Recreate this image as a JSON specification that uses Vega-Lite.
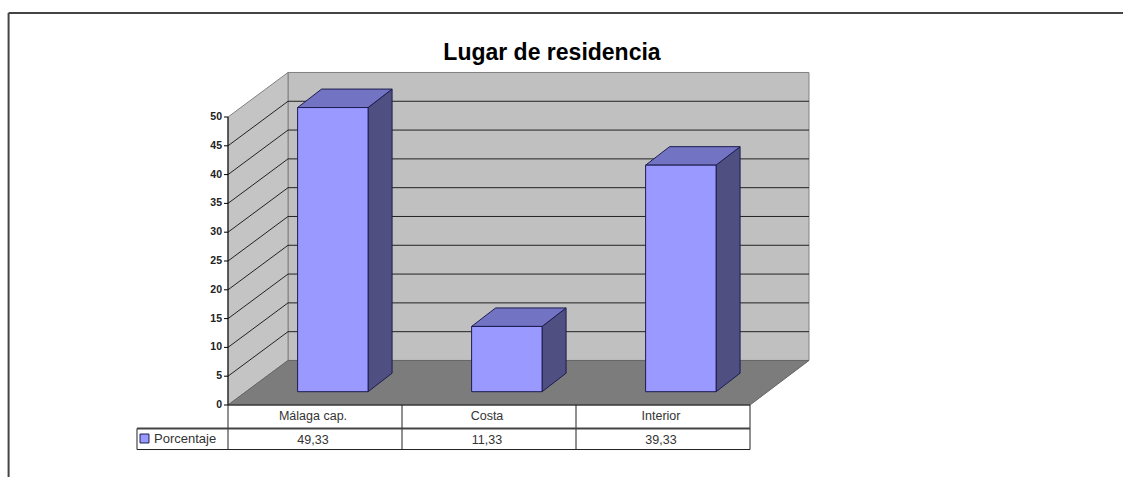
{
"$schema":"https://vega.github.io/schema/vega-lite/v6.json",
"width":522,"height":288,
"autosize":{"type":"none"},
"padding":{"left":228,"top":117,"right":373,"bottom":72},
"background":"white",
"config":{"view":{"stroke":null},"font":"Liberation Sans"},
"title":{"text":"Lugar de residencia","font":"Liberation Sans","fontSize":23,"fontWeight":"bold","color":"#000000","anchor":"middle","frame":"group","dx":63,"offset":2,"dy":55},
"datasets":{
"barras":[{"lugar":"Málaga cap.","porcentaje":49.33,"serie":"Porcentaje"},{"lugar":"Costa","porcentaje":11.33,"serie":"Porcentaje"},{"lugar":"Interior","porcentaje":39.33,"serie":"Porcentaje"}],
"marcas":[{"marca":0},{"marca":5},{"marca":10},{"marca":15},{"marca":20},{"marca":25},{"marca":30},{"marca":35},{"marca":40},{"marca":45},{"marca":50}],
"fondo":[{"prof":0},{"prof":1}],
"cortes":[{"corte":0},{"corte":1},{"corte":2},{"corte":3}]
},
"layer":[
{"data":{"name":"fondo"},"transform":[{"filter":"datum.prof==0"}],
 "mark":{"type":"rect","fill":"#c0c0c0","stroke":"#808080","strokeWidth":1},
 "encoding":{"x":{"datum":0.345,"type":"quantitative","scale":{"domain":[0,3],"nice":false,"zero":false},"axis":null},"x2":{"datum":3.339},
 "y":{"datum":7.73,"type":"quantitative","scale":{"domain":[0,50],"nice":false,"zero":false},"axis":null},"y2":{"datum":57.73}}},
{"data":{"name":"fondo"},"transform":[{"calculate":"datum.prof*0.345","as":"px"},{"calculate":"datum.prof*7.73","as":"py"},{"calculate":"50+datum.prof*7.73","as":"py2"}],
 "mark":{"type":"area","fill":"#c4c4c4","stroke":"#808080","strokeWidth":1,"opacity":1},
 "encoding":{"x":{"field":"px","type":"quantitative","axis":null},"y":{"field":"py","type":"quantitative","stack":null,"axis":null},"y2":{"field":"py2"}}},
{"data":{"name":"fondo"},"transform":[{"calculate":"datum.prof*0.345","as":"px"},{"calculate":"3+datum.prof*0.339","as":"px2"},{"calculate":"datum.prof*7.73","as":"py"}],
 "mark":{"type":"area","orient":"horizontal","fill":"#7c7c7c","stroke":"#666666","strokeWidth":1,"opacity":1},
 "encoding":{"y":{"field":"py","type":"quantitative","axis":null},"x":{"field":"px","type":"quantitative","stack":null,"axis":null},"x2":{"field":"px2"}}},
{"data":{"name":"marcas"},"transform":[{"filter":"datum.marca>0 && datum.marca<50"},{"calculate":"datum.marca+7.73","as":"atras"}],
 "mark":{"type":"rule","color":"#222222","strokeWidth":1},
 "encoding":{"x":{"datum":0.345,"type":"quantitative","axis":null},"x2":{"datum":3.339},"y":{"field":"atras","type":"quantitative","axis":null}}},
{"data":{"name":"marcas"},"transform":[{"filter":"datum.marca>0 && datum.marca<50"},{"calculate":"datum.marca+7.73","as":"atras"}],
 "mark":{"type":"rule","color":"#222222","strokeWidth":1},
 "encoding":{"x":{"datum":0,"type":"quantitative","axis":null},"x2":{"datum":0.345},"y":{"field":"marca","type":"quantitative","axis":null},"y2":{"field":"atras"}}},
{"data":{"name":"marcas"},
 "mark":{"type":"rule","color":"#000000","strokeWidth":1},
 "encoding":{"x":{"datum":-0.023,"type":"quantitative","axis":null},"x2":{"datum":0},"y":{"field":"marca","type":"quantitative","axis":null}}},
{"data":{"values":[{"k":1}]},
 "mark":{"type":"rule","color":"#000000","strokeWidth":1},
 "encoding":{"x":{"datum":0,"type":"quantitative","axis":null},"y":{"datum":0,"type":"quantitative","axis":null},"y2":{"datum":50}}},
{"data":{"name":"marcas"},
 "mark":{"type":"text","font":"Liberation Sans","fontSize":10.5,"fontWeight":"bold","color":"#222222","align":"right","baseline":"middle","dx":-6},
 "encoding":{"x":{"datum":0,"type":"quantitative","axis":null},"y":{"field":"marca","type":"quantitative","axis":null},"text":{"field":"marca","type":"quantitative"}}},
{"data":{"name":"barras"},"transform":[{"calculate":"indexof(['Málaga cap.','Costa','Interior'],datum.lugar)","as":"i"},{"calculate":"0","as":"a"},{"calculate":"1","as":"b"},{"fold":["a","b"],"as":["cara","p"]},{"calculate":"datum.i+0.805+datum.p*0.138","as":"px"},{"calculate":"2.31+datum.p*3.21","as":"py"},{"calculate":"2.31+datum.porcentaje+datum.p*3.21","as":"py2"}],
 "mark":{"type":"area","fill":"#4f4f82","stroke":"#1c1c50","strokeWidth":1,"opacity":1},
 "encoding":{"x":{"field":"px","type":"quantitative","axis":null},"y":{"field":"py","type":"quantitative","stack":null,"axis":null},"y2":{"field":"py2"},"detail":{"field":"lugar"}}},
{"data":{"name":"barras"},"transform":[{"calculate":"indexof(['Málaga cap.','Costa','Interior'],datum.lugar)","as":"i"},{"calculate":"0","as":"a"},{"calculate":"1","as":"b"},{"fold":["a","b"],"as":["cara","p"]},{"calculate":"datum.i+0.4+datum.p*0.138","as":"px"},{"calculate":"datum.i+0.805+datum.p*0.138","as":"px2"},{"calculate":"2.31+datum.porcentaje+datum.p*3.21","as":"py"}],
 "mark":{"type":"area","orient":"horizontal","fill":"#7373c4","stroke":"#1c1c50","strokeWidth":1,"opacity":1},
 "encoding":{"y":{"field":"py","type":"quantitative","axis":null},"x":{"field":"px","type":"quantitative","stack":null,"axis":null},"x2":{"field":"px2"},"detail":{"field":"lugar"}}},
{"data":{"name":"barras"},"transform":[{"calculate":"indexof(['Málaga cap.','Costa','Interior'],datum.lugar)","as":"i"},{"calculate":"datum.i+0.4","as":"px"},{"calculate":"datum.i+0.805","as":"px2"},{"calculate":"2.31+datum.porcentaje","as":"py"}],
 "mark":{"type":"rect","stroke":"#1c1c50","strokeWidth":1,"opacity":1},
 "encoding":{"x":{"field":"px","type":"quantitative","axis":null},"x2":{"field":"px2"},"y":{"field":"py","type":"quantitative","axis":null},"y2":{"datum":2.31},
 "color":{"field":"serie","type":"nominal","scale":{"domain":["Porcentaje"],"range":["#9999ff"]},"legend":{"title":null,"orient":"none","legendX":-90,"legendY":315,"symbolType":"square","symbolSize":80,"symbolStrokeColor":"#1c1c50","symbolStrokeWidth":1,"symbolOpacity":1,"labelFont":"Liberation Sans","labelFontSize":13,"labelColor":"#333333","labelOffset":3,"padding":0}}}},
{"data":{"name":"cortes"},
 "mark":{"type":"rule","color":"#222222","strokeWidth":1},
 "encoding":{"x":{"field":"corte","type":"quantitative","axis":null},"y":{"datum":0,"type":"quantitative","axis":null},"y2":{"datum":-7.73}}},
{"mark":{"type":"rule","color":"#222222","strokeWidth":1},"data":{"values":[{"k":1}]},
 "encoding":{"x":{"datum":-0.523,"type":"quantitative","axis":null},"y":{"datum":-4.08,"type":"quantitative","axis":null},"y2":{"datum":-7.73}}},
{"mark":{"type":"rule","color":"#222222","strokeWidth":1},"data":{"values":[{"k":1}]},
 "encoding":{"x":{"datum":0,"type":"quantitative","axis":null},"x2":{"datum":3},"y":{"datum":0,"type":"quantitative","axis":null}}},
{"mark":{"type":"rule","color":"#444444","strokeWidth":2},"data":{"values":[{"k":1}]},
 "encoding":{"x":{"datum":-0.523,"type":"quantitative","axis":null},"x2":{"datum":3},"y":{"datum":-4.08,"type":"quantitative","axis":null}}},
{"mark":{"type":"rule","color":"#222222","strokeWidth":1},"data":{"values":[{"k":1}]},
 "encoding":{"x":{"datum":-0.523,"type":"quantitative","axis":null},"x2":{"datum":3},"y":{"datum":-7.73,"type":"quantitative","axis":null}}},
{"mark":{"type":"rule","color":"#444444","strokeWidth":2},"data":{"values":[{"k":1}]},
 "encoding":{"x":{"datum":-1.261,"type":"quantitative","axis":null},"x2":{"datum":5.144},"y":{"datum":68.06,"type":"quantitative","axis":null}}},
{"mark":{"type":"rule","color":"#444444","strokeWidth":2},"data":{"values":[{"k":1}]},
 "encoding":{"x":{"datum":-1.261,"type":"quantitative","axis":null},"y":{"datum":68.06,"type":"quantitative","axis":null},"y2":{"datum":-12.5}}},
{"data":{"name":"barras"},"transform":[{"calculate":"indexof(['Málaga cap.','Costa','Interior'],datum.lugar)+0.5","as":"centro"}],
 "mark":{"type":"text","font":"Liberation Sans","fontSize":12.5,"color":"#333333","dx":-2},
 "encoding":{"x":{"field":"centro","type":"quantitative","axis":null},"y":{"datum":-1.86,"type":"quantitative","axis":null},"text":{"field":"lugar"}}},
{"data":{"name":"barras"},"transform":[{"calculate":"indexof(['Málaga cap.','Costa','Interior'],datum.lugar)+0.5","as":"centro"},{"calculate":"replace(format(datum.porcentaje,'.2f'),'.',',')","as":"etiqueta"}],
 "mark":{"type":"text","font":"Liberation Sans","fontSize":12.5,"color":"#333333","dx":-2},
 "encoding":{"x":{"field":"centro","type":"quantitative","axis":null},"y":{"datum":-6.02,"type":"quantitative","axis":null},"text":{"field":"etiqueta"}}}
]
}
